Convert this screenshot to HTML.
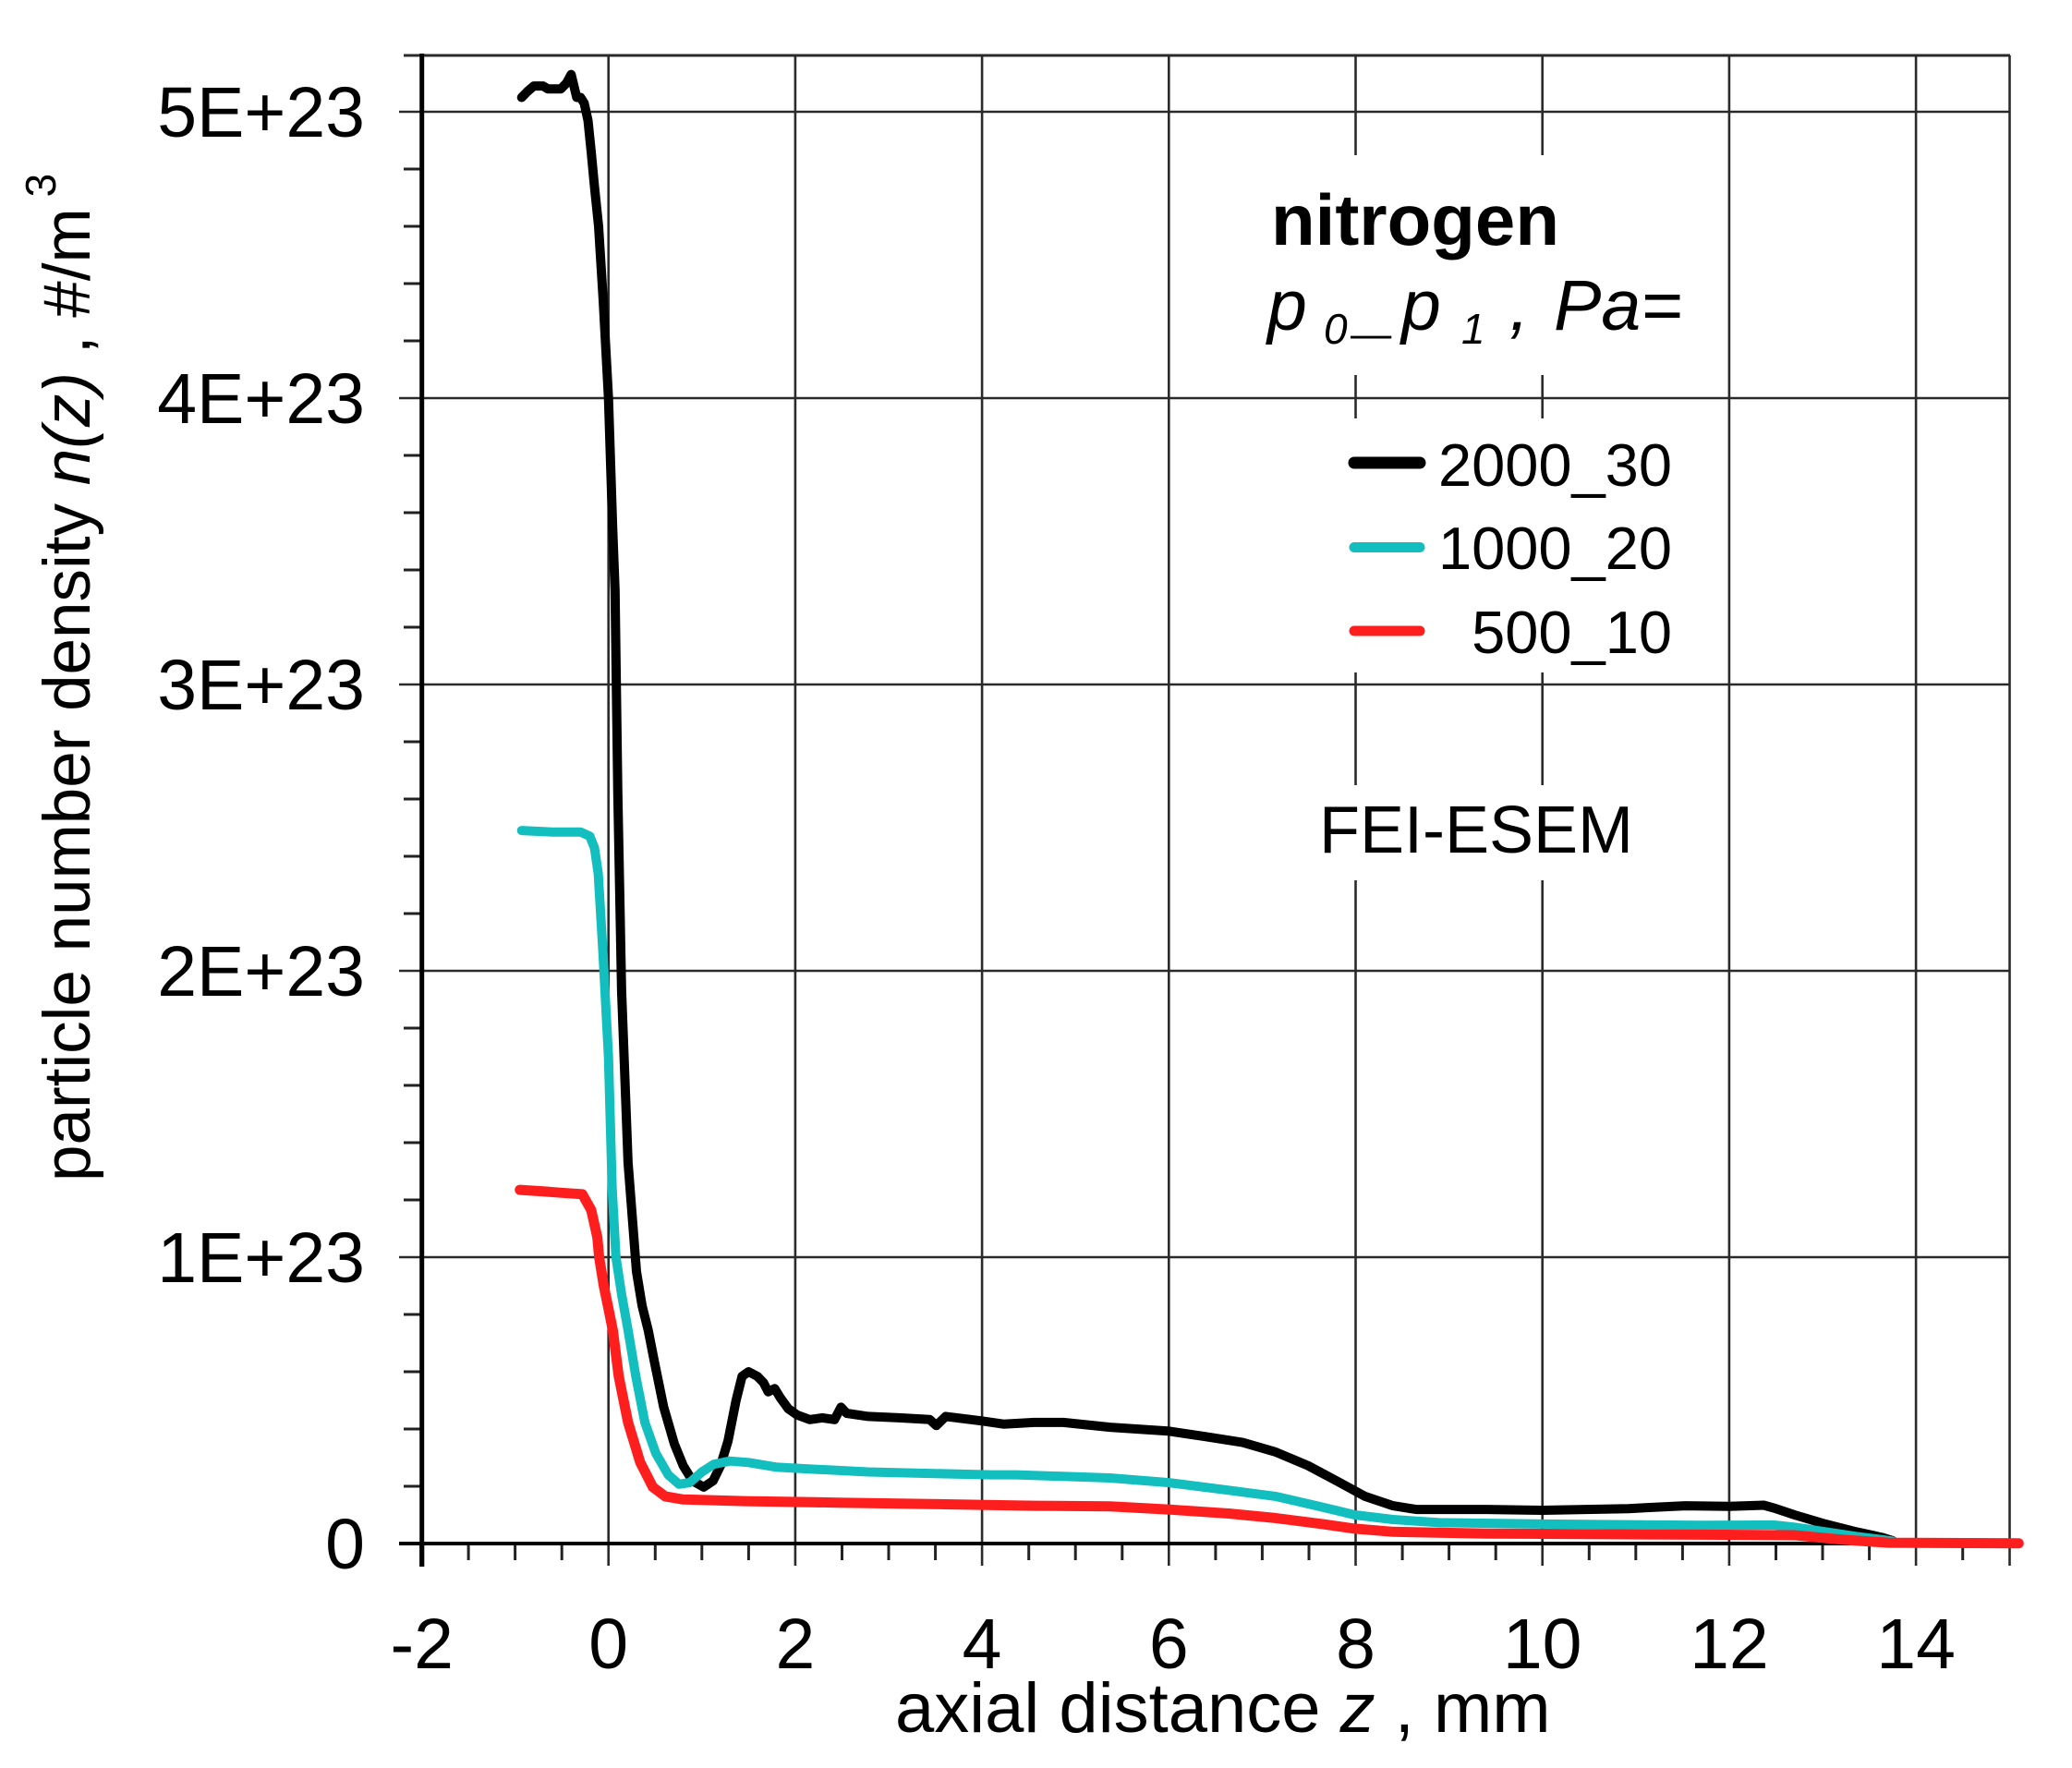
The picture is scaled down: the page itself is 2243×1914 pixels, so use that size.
<!DOCTYPE html>
<html><head><meta charset="utf-8"><style>
html,body{margin:0;padding:0;background:#fff;}
svg{display:block;}
text{font-family:"Liberation Sans",Arial,sans-serif;fill:#000;}
</style></head><body>
<svg width="2243" height="1914" viewBox="0 0 2243 1914" xmlns="http://www.w3.org/2000/svg">
<rect width="2243" height="1914" fill="#fff"/>
<!-- horizontal gridlines -->
<g stroke="#2a2a2a" stroke-width="2.6">
<line x1="432" y1="121" x2="2176" y2="121"/>
<line x1="432" y1="431" x2="2176" y2="431"/>
<line x1="432" y1="741" x2="2176" y2="741"/>
<line x1="432" y1="1051" x2="2176" y2="1051"/>
<line x1="432" y1="1361" x2="2176" y2="1361"/>
<line x1="437" y1="60" x2="2176" y2="60" stroke-width="3"/>
</g>
<!-- vertical gridlines -->
<g stroke="#2a2a2a" stroke-width="2.6">
<line x1="658.7" y1="60" x2="658.7" y2="1695"/>
<line x1="860.9" y1="60" x2="860.9" y2="1695"/>
<line x1="1063.1" y1="60" x2="1063.1" y2="1695"/>
<line x1="1265.3" y1="60" x2="1265.3" y2="1695"/>
<line x1="1871.9" y1="60" x2="1871.9" y2="1695"/>
<line x1="2074.1" y1="60" x2="2074.1" y2="1695"/>
<line x1="2175.5" y1="60" x2="2175.5" y2="1695"/>
<line x1="1467.5" y1="60" x2="1467.5" y2="168"/>
<line x1="1467.5" y1="406" x2="1467.5" y2="453"/>
<line x1="1467.5" y1="728" x2="1467.5" y2="850"/>
<line x1="1467.5" y1="953" x2="1467.5" y2="1695"/>
<line x1="1669.7" y1="60" x2="1669.7" y2="168"/>
<line x1="1669.7" y1="406" x2="1669.7" y2="453"/>
<line x1="1669.7" y1="728" x2="1669.7" y2="850"/>
<line x1="1669.7" y1="953" x2="1669.7" y2="1695"/>
</g>
<!-- x minor ticks -->
<g stroke="#222" stroke-width="3">
<line x1="507.1" y1="1671" x2="507.1" y2="1689"/><line x1="557.6" y1="1671" x2="557.6" y2="1689"/><line x1="608.2" y1="1671" x2="608.2" y2="1689"/>
<line x1="709.3" y1="1671" x2="709.3" y2="1689"/><line x1="759.8" y1="1671" x2="759.8" y2="1689"/><line x1="810.4" y1="1671" x2="810.4" y2="1689"/>
<line x1="911.5" y1="1671" x2="911.5" y2="1689"/><line x1="962" y1="1671" x2="962" y2="1689"/><line x1="1012.6" y1="1671" x2="1012.6" y2="1689"/>
<line x1="1113.7" y1="1671" x2="1113.7" y2="1689"/><line x1="1164.2" y1="1671" x2="1164.2" y2="1689"/><line x1="1214.8" y1="1671" x2="1214.8" y2="1689"/>
<line x1="1315.9" y1="1671" x2="1315.9" y2="1689"/><line x1="1366.4" y1="1671" x2="1366.4" y2="1689"/><line x1="1417" y1="1671" x2="1417" y2="1689"/>
<line x1="1518.1" y1="1671" x2="1518.1" y2="1689"/><line x1="1568.6" y1="1671" x2="1568.6" y2="1689"/><line x1="1619.2" y1="1671" x2="1619.2" y2="1689"/>
<line x1="1720.3" y1="1671" x2="1720.3" y2="1689"/><line x1="1770.8" y1="1671" x2="1770.8" y2="1689"/><line x1="1821.4" y1="1671" x2="1821.4" y2="1689"/>
<line x1="1922.5" y1="1671" x2="1922.5" y2="1689"/><line x1="1973" y1="1671" x2="1973" y2="1689"/><line x1="2023.6" y1="1671" x2="2023.6" y2="1689"/>
<line x1="2124.7" y1="1671" x2="2124.7" y2="1689"/>
</g>
<!-- y minor ticks -->
<g stroke="#222" stroke-width="3">
<line x1="437" y1="1609" x2="457" y2="1609"/><line x1="437" y1="1547" x2="457" y2="1547"/><line x1="437" y1="1485" x2="457" y2="1485"/><line x1="437" y1="1423" x2="457" y2="1423"/>
<line x1="437" y1="1299" x2="457" y2="1299"/><line x1="437" y1="1237" x2="457" y2="1237"/><line x1="437" y1="1175" x2="457" y2="1175"/><line x1="437" y1="1113" x2="457" y2="1113"/>
<line x1="437" y1="989" x2="457" y2="989"/><line x1="437" y1="927" x2="457" y2="927"/><line x1="437" y1="865" x2="457" y2="865"/><line x1="437" y1="803" x2="457" y2="803"/>
<line x1="437" y1="679" x2="457" y2="679"/><line x1="437" y1="617" x2="457" y2="617"/><line x1="437" y1="555" x2="457" y2="555"/><line x1="437" y1="493" x2="457" y2="493"/>
<line x1="437" y1="369" x2="457" y2="369"/><line x1="437" y1="307" x2="457" y2="307"/><line x1="437" y1="245" x2="457" y2="245"/><line x1="437" y1="183" x2="457" y2="183"/>
</g>
<!-- axes -->
<line x1="456.7" y1="58" x2="456.7" y2="1696" stroke="#000" stroke-width="5"/>
<line x1="432" y1="1671" x2="2177" y2="1671" stroke="#000" stroke-width="4"/>
<line x1="456.7" y1="1671" x2="456.7" y2="1696" stroke="#000" stroke-width="5"/>

<!-- series -->
<g fill="none" stroke-linejoin="round" stroke-linecap="round">
<polyline stroke="#000" stroke-width="10" points="564.7,105.5 570.7,99.3 577.8,93.1 582.9,93.1 587.9,93.1 593,96.2 600.1,96.2 607.1,96.2 613.2,90 618.3,80.7 621.3,93.1 624.3,105.5 628.4,105.5 632.4,111.7 636.5,130.3 640,164.4 643.5,201.6 648,245 653,325.6 658.7,431 663.2,570.5 665.8,638.7 668.8,858.8 672.9,1072.7 679.9,1258.7 689,1376.5 695.1,1413.7 701.7,1440 708.2,1473.2 718.4,1523.1 730,1563.1 739.6,1586.7 749.7,1603.1 761.8,1609.9 771.9,1603.1 780,1586.7 788.1,1560 796.7,1516.6 803.3,1490 810.4,1485 819.9,1490 826.5,1496.8 831.6,1506.7 838.7,1503.3 844.7,1513.2 853.3,1525 862.9,1531.8 876.6,1536.8 890.2,1534.9 903.4,1536.8 910.4,1523.4 916.5,1530 939.8,1533.4 973.1,1534.9 1006.5,1536.8 1013.6,1543.3 1023.7,1533.4 1063.1,1538.3 1086.3,1541.7 1119.7,1539.9 1151.1,1539.9 1201.6,1545.1 1264.3,1549.2 1303.7,1555.1 1345.2,1561.6 1380.6,1571.8 1416,1586.7 1447.3,1603.4 1477.6,1619.9 1508,1630.1 1533.2,1634.1 1610.1,1634.1 1669.7,1635 1762.7,1633.2 1824.4,1630.1 1871.9,1630.7 1909.3,1629.5 1922.5,1633.2 1942.7,1640 1976,1649.9 2009.4,1658.3 2036.7,1664.2 2048.8,1667.9"/>
<polyline stroke="#12BEBE" stroke-width="10" points="564.7,899.1 598,900.7 628.4,900.7 638.5,905.3 643.5,917.7 647.6,945.6 652.6,1029.3 658.7,1144 662.7,1286.6 666.8,1361 672.9,1401.3 679.9,1440 688.3,1490 698.1,1539.9 710,1573.4 723.4,1596.6 735,1606.8 746.7,1605 759.8,1593.5 772.9,1585.1 790.1,1581.7 810.4,1583.3 839.7,1588.2 873,1590.1 939.8,1593.5 1006.5,1595.1 1073.2,1596.6 1100,1596.6 1201.6,1600 1264.3,1605 1330,1613.3 1380.6,1619.9 1431.6,1631.6 1466.5,1640 1508,1645 1558.5,1648.4 1669.7,1649.9 1842.6,1651.2 1919.4,1650.9 1942.7,1653.3 1976,1658.3 2009.4,1663.3 2036.7,1666.7 2048.8,1668.5"/>
<polyline stroke="#FF1E1E" stroke-width="11" points="562.7,1288.1 587.9,1289.7 608.2,1291.3 630.4,1292.8 640,1309.9 646.6,1339.3 648.6,1361 653.6,1392 658.7,1416.8 663.4,1440 669.8,1490 679.9,1539.9 693.1,1583.3 706.7,1609.9 720,1619.9 739.6,1623.3 806.3,1625.1 906.4,1626.7 1006.5,1628.2 1119.7,1630.1 1201.6,1630.7 1264.3,1634.1 1330,1638.5 1380.6,1643.4 1431.6,1649.9 1466.5,1654.9 1508,1658.3 1610.1,1660.2 1842.6,1661.4 1942.7,1662 1993.2,1666.7 2043.8,1670.1 2185.3,1670.7"/>
</g>

<!-- y tick labels -->
<g font-size="77" text-anchor="end">
<text x="395" y="148">5E+23</text>
<text x="395" y="458">4E+23</text>
<text x="395" y="768">3E+23</text>
<text x="395" y="1078">2E+23</text>
<text x="395" y="1388">1E+23</text>
<text x="395" y="1698">0</text>
</g>
<!-- x tick labels -->
<g font-size="77" text-anchor="middle">
<text x="456.7" y="1806">-2</text>
<text x="658.7" y="1806">0</text>
<text x="860.9" y="1806">2</text>
<text x="1063.1" y="1806">4</text>
<text x="1265.3" y="1806">6</text>
<text x="1467.5" y="1806">8</text>
<text x="1669.7" y="1806">10</text>
<text x="1871.9" y="1806">12</text>
<text x="2074.1" y="1806">14</text>
</g>
<!-- axis titles -->
<text x="969" y="1875" font-size="76" xml:space="preserve">axial distance <tspan font-style="italic">z</tspan> , mm</text>
<text transform="translate(97,1279) rotate(-90)" font-size="71" xml:space="preserve">particle number density <tspan font-style="italic">n(z)</tspan> , #/m<tspan font-size="46" dx="12" dy="-37">3</tspan></text>

<!-- legend -->
<text x="1376" y="265" font-size="78" font-weight="bold">nitrogen</text>
<g font-style="italic">
<text x="1372" y="357" font-size="77">p</text>
<text x="1433" y="372" font-size="46">0</text>
<text x="1468" y="357" font-size="77">_</text>
<text x="1517" y="357" font-size="77">p</text>
<text x="1582" y="372" font-size="46">1</text>
<text x="1634" y="357" font-size="77">,</text>
<text x="1682" y="357" font-size="77">Pa=</text>
</g>
<line x1="1466" y1="501" x2="1537" y2="501" stroke="#000" stroke-width="13" stroke-linecap="round"/>
<line x1="1466" y1="592.5" x2="1537" y2="592.5" stroke="#12BEBE" stroke-width="11" stroke-linecap="round"/>
<line x1="1466" y1="683" x2="1537" y2="683" stroke="#FF1E1E" stroke-width="11" stroke-linecap="round"/>
<g font-size="65" text-anchor="end">
<text x="1810" y="526">2000_30</text>
<text x="1810" y="616">1000_20</text>
<text x="1810" y="707">500_10</text>
</g>
<text x="1428" y="923" font-size="72">FEI-ESEM</text>
</svg>
</body></html>
